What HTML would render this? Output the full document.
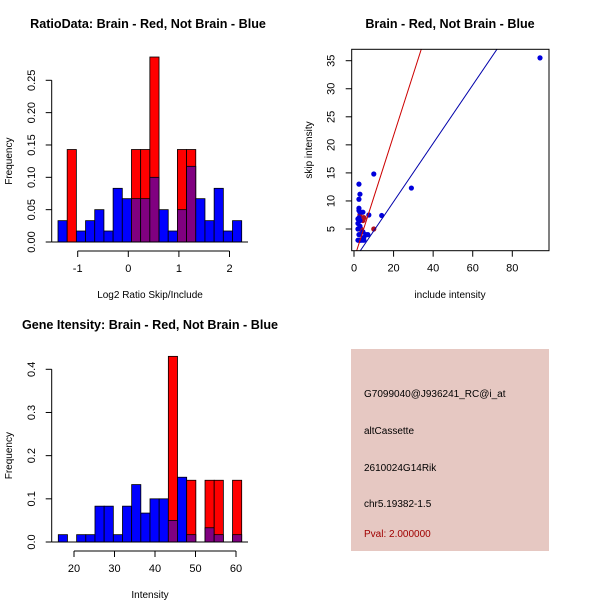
<!DOCTYPE html>
<html><head><meta charset="utf-8"><style>
body{margin:0;background:#fff;}
svg{display:block;font-family:"Liberation Sans",sans-serif;}
</style></head><body>
<svg id="s" width="600" height="600" xmlns="http://www.w3.org/2000/svg">
<rect width="600" height="600" fill="#fff"/>
<g id="p1"></g>
<g id="p2"></g>
<g id="p3"></g>
<g>
<rect x="351" y="349" width="198" height="202" fill="#e6c8c2"/>
<g font-size="10" fill="#000">
<text x="364" y="397">G7099040@J936241_RC@i_at</text>
<text x="364" y="434">altCassette</text>
<text x="364" y="471">2610024G14Rik</text>
<text x="364" y="507">chr5.19382-1.5</text>
<text x="364" y="537" fill="#a00000">Pval: 2.000000</text>
</g></g>
</svg>
<script>
// Ratio histogram data
const ratioBlue=[0.033,0,0.017,0.033,0.05,0.017,0.083,0.067,0.067,0.067,0.1,0.05,0.017,0.05,0.117,0.067,0.033,0.083,0.017,0.033];
const ratioRed=[0,0.143,0,0,0,0,0,0,0.143,0.143,0.286,0,0,0.143,0.143,0,0,0,0,0];
const ratioXTicks=[-1,0,1,2];
const ratioYTicks=[0,0.05,0.10,0.15,0.20,0.25];
// Gene intensity histogram data
const intBlue=[0.017,0,0.017,0.017,0.083,0.083,0.017,0.083,0.133,0.067,0.1,0.1,0.05,0.15,0.017,0,0.033,0.017,0,0.017];
const intRed=[0,0,0,0,0,0,0,0,0,0,0,0,0.43,0,0.143,0,0.143,0.143,0,0.143];
const intXTicks=[20,30,40,50,60];
const intYTicks=[0,0.1,0.2,0.3,0.4];
// Scatter data
const blueInclude=[94,10,29,14,7.5,2.5,3,2.5,2.5,2.5,3,4.5,2,2,2,2.5,2,3,4,5,5,6,7,4.5,3,3,2.5];
const blueSkip=[35.5,14.8,12.3,7.4,7.5,13,11.2,10.3,8.7,8.3,8,8,6.8,6,5,4,3,3,3,3,3.5,4,4,4.5,5.5,6.5,7];
const redInclude=[10,3,5,4.5,5,3,3.5,4];
const redSkip=[5,7.5,7,6.5,7,3,5,4.5];
const redFit=[-0.35,1.1]; // intercept, slope
const blueFit=[-0.53,0.52];
const scXTicks=[0,20,40,60,80];
const scYTicks=[5,10,15,20,25,30,35];

const NS="http://www.w3.org/2000/svg";
function mk(parent,tag,attrs,txt){const e=document.createElementNS(NS,tag);for(const k in attrs)e.setAttribute(k,attrs[k]);if(txt!==undefined)e.textContent=txt;parent.appendChild(e);return e;}

function hist(g,blue,red,x0,x1,yScale,xTicks,yTicks,xmap,title,titleX,xlab,top,yfmt){
  const n=blue.length,w=(x1-x0)/n,base=yScale(0);
  for(let i=0;i<n;i++){
    const bx=x0+i*w;
    if(red[i]>0){const r=mk(g,'rect',{x:bx,y:yScale(red[i]),width:w,height:base-yScale(red[i]),fill:'#ff0000',stroke:'#000','stroke-width':0.8});
      }
    if(blue[i]>0){const c=red[i]>0?'#800080':'#0000ff';
      const b=mk(g,'rect',{x:bx,y:yScale(blue[i]),width:w,height:base-yScale(blue[i]),fill:c,stroke:'#000','stroke-width':0.8});
      }
  }
  mk(g,'line',{x1:51.7,x2:248,y1:base,y2:base,stroke:'#000'});
  const ay=base+9;
  const xa=mk(g,'g',{});
  mk(xa,'line',{x1:xmap(xTicks[0]),x2:xmap(xTicks[xTicks.length-1]),y1:ay,y2:ay,stroke:'#000'});
  xTicks.forEach(t=>{mk(xa,'line',{x1:xmap(t),x2:xmap(t),y1:ay,y2:ay+6,stroke:'#000'});
    mk(xa,'text',{x:xmap(t),y:ay+21,'text-anchor':'middle','font-size':11},String(t));});
  const ya=mk(g,'g',{});
  mk(ya,'line',{x1:51.7,x2:51.7,y1:yScale(yTicks[0]),y2:yScale(yTicks[yTicks.length-1]),stroke:'#000'});
  yTicks.forEach(t=>{const y=yScale(t);mk(ya,'line',{x1:45.7,x2:51.7,y1:y,y2:y,stroke:'#000'});
    mk(ya,'text',{x:35,y:y,'text-anchor':'middle','font-size':11,transform:`rotate(-90 35 ${y})`},yfmt(t));});
  const tt=mk(g,'text',{x:titleX,y:top,'text-anchor':'middle','font-size':12.6,'font-weight':'bold'},title);
  
  const xl=mk(g,'text',{x:150,y:ay+47,'text-anchor':'middle','font-size':10},xlab);
  
  const cy=(base+yScale(yTicks[yTicks.length-1]))/2;
  const yl=mk(g,'text',{x:12,y:cy,'text-anchor':'middle','font-size':10,transform:`rotate(-90 12 ${cy})`},'Frequency');
  
}
// Top-left
(function(){
  const g=document.getElementById('p1');
  const ys=v=>242-v*(242-80.3)/0.25;
  const xm=v=>128.3+v*50.6;
  hist(g,ratioBlue,ratioRed,58,241.7,ys,ratioXTicks,ratioYTicks,xm,'RatioData: Brain - Red, Not Brain - Blue',148,'Log2 Ratio Skip/Include',28,t=>t.toFixed(2));
})();
// Bottom-left
(function(){
  const g=document.getElementById('p3');
  const ys=v=>542-v*(542-369.3)/0.4;
  const xm=v=>74+(v-20)*4.05;
  hist(g,intBlue,intRed,58.3,241.7,ys,intXTicks,intYTicks,xm,'Gene Itensity: Brain - Red, Not Brain - Blue',150,'Intensity',329,t=>t.toFixed(1));
})();
// Scatter
(function(){
  const g=document.getElementById('p2');
  const L=351.7,R=549,T=49.3,B=250.7;
  const xs=v=>354+v*(512.3-354)/80;
  const ys=v=>229-(v-5)*(229-60.7)/30;
  const xmin=(L-354)/((512.3-354)/80), xmax=(R-354)/((512.3-354)/80);
  const cp=mk(g,'clipPath',{id:'cp'});mk(cp,'rect',{x:L,y:T,width:R-L,height:B-T});
  const pts=mk(g,'g',{'clip-path':'url(#cp)'});
  function fit(f,col,name){const l=mk(pts,'line',{x1:xs(xmin),y1:ys(f[0]+f[1]*xmin),x2:xs(xmax),y2:ys(f[0]+f[1]*xmax),stroke:col,'stroke-width':1});
    }
  redInclude.forEach((v,i)=>{const c=mk(pts,'circle',{cx:xs(v),cy:ys(redSkip[i]),r:2.6,fill:'#b01020'});
    });
  blueInclude.forEach((v,i)=>{const c=mk(pts,'circle',{cx:xs(v),cy:ys(blueSkip[i]),r:2.6,fill:'#0000dd'});
    });
  fit(redFit,'#cc0000','red-fit-line');fit(blueFit,'#0000aa','blue-fit-line');
  mk(g,'rect',{x:L,y:T,width:R-L,height:B-T,fill:'none',stroke:'#000'});
  const xa=mk(g,'g',{});
  scXTicks.forEach(t=>{mk(xa,'line',{x1:xs(t),x2:xs(t),y1:B,y2:B+6,stroke:'#000'});
    mk(xa,'text',{x:xs(t),y:B+21,'text-anchor':'middle','font-size':11},String(t));});
  const ya=mk(g,'g',{});
  scYTicks.forEach(t=>{const y=ys(t);mk(ya,'line',{x1:L-6,x2:L,y1:y,y2:y,stroke:'#000'});
    mk(ya,'text',{x:L-17,y:y,'text-anchor':'middle','font-size':11,transform:`rotate(-90 ${L-17} ${y})`},String(t));});
  const tt=mk(g,'text',{x:450,y:28,'text-anchor':'middle','font-size':12.6,'font-weight':'bold'},'Brain - Red, Not Brain - Blue');
  
  const xl=mk(g,'text',{x:450,y:298,'text-anchor':'middle','font-size':10},'include intensity');
  
  const yl=mk(g,'text',{x:312,y:150,'text-anchor':'middle','font-size':10,transform:'rotate(-90 312 150)'},'skip intensity');
  
})();
</script>
</body></html>
